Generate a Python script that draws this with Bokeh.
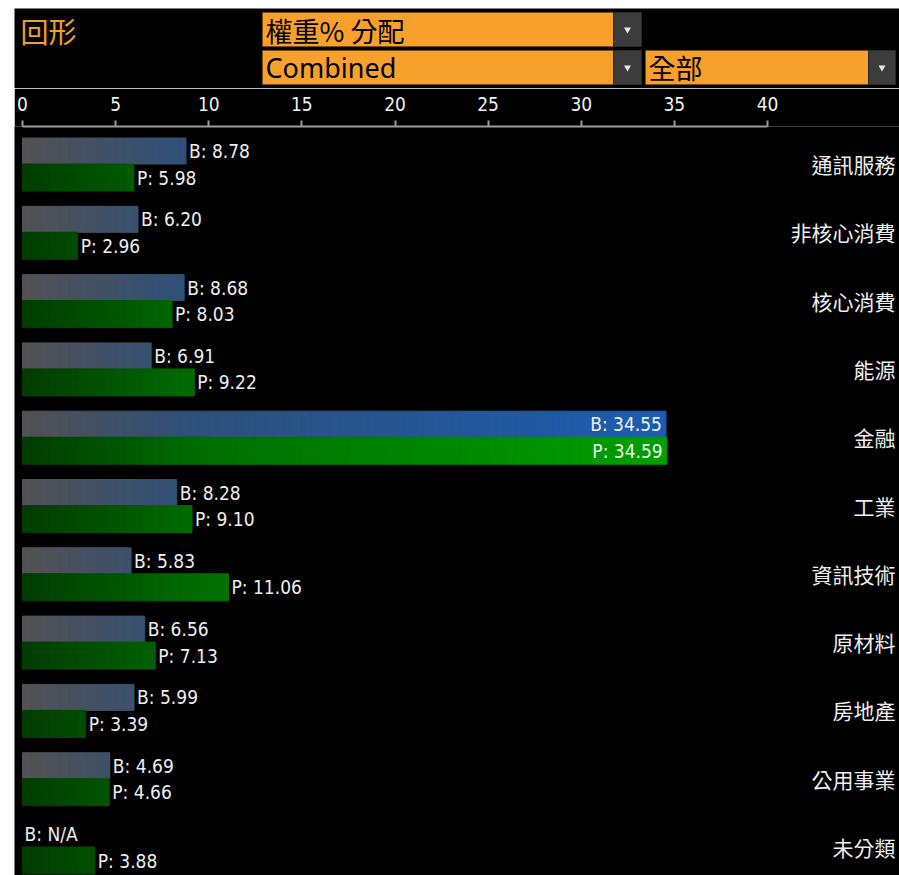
import math
from bokeh.plotting import figure
from bokeh.models import Range1d, ColumnDataSource, FixedTicker, Spacer
from bokeh.layouts import row, column
from bokeh.core.properties import value
from bokeh.embed import file_html
from bokeh.resources import INLINE

# ---------------- data ----------------
categories = ["通訊服務", "非核心消費", "核心消費", "能源", "金融", "工業",
              "資訊技術", "原材料", "房地產", "公用事業", "未分類"]
bench = [8.78, 6.20, 8.68, 6.91, 34.55, 8.28, 5.83, 6.56, 5.99, 4.69, None]
port = [5.98, 2.96, 8.03, 9.22, 34.59, 9.10, 11.06, 7.13, 3.39, 4.66, 3.88]
x_ticks = [0, 5, 10, 15, 20, 25, 30, 35, 40]
title_text = "回形"
dropdown_1 = "權重% 分配"
dropdown_2 = "Combined"
dropdown_3 = "全部"

# ---------------- layout constants ----------------
LEFT_GAP = 14
TOP_GAP = 8
FIG_W = 885
HEAD_H = 80
MAIN_H = 787
TOP_BORDER = 38
X0_PX = 8
PX_PER_UNIT = 745 / 40.0
PITCH = 68.3
FRAME_H = MAIN_H - TOP_BORDER
ROW0_PX = 37.5

CJK = "Noto Sans CJK TC"
NUM_FONT = "DejaVu Sans Condensed, Liberation Sans, sans-serif"

b_stops = [(0, (82, 82, 82)), (9, (46, 80, 122)), (35, (28, 92, 178))]
p_stops = [(0, (0, 60, 0)), (10, (0, 112, 0)), (35, (0, 160, 0))]


def interp(stops, x):
    if x <= stops[0][0]:
        return stops[0][1]
    for (x0, c0), (x1, c1) in zip(stops[:-1], stops[1:]):
        if x <= x1:
            t = (x - x0) / (x1 - x0)
            return tuple(round(a + (b - a) * t) for a, b in zip(c0, c1))
    return stops[-1][1]


def hexc(c):
    return "#%02x%02x%02x" % c


# ---------------- header ----------------
head = figure(width=FIG_W, height=HEAD_H, output_backend="svg", toolbar_location=None,
              x_range=Range1d(LEFT_GAP, LEFT_GAP + FIG_W),
              y_range=Range1d(TOP_GAP + HEAD_H, TOP_GAP),
              x_axis_location=None, y_axis_location=None, min_border=0)
head.background_fill_color = "black"
head.border_fill_color = "black"
head.outline_line_color = None
head.xgrid.visible = False
head.ygrid.visible = False

head.text(x=[20], y=[30], text=[title_text], text_color="#eda12c",
          text_font=value(CJK), text_font_size="28px", text_baseline="middle")

boxes = ColumnDataSource(dict(left=[262, 262, 645], right=[613, 613, 868],
                              top=[12, 50, 50], bottom=[46, 84, 84]))
head.quad(left="left", right="right", top="top", bottom="bottom", source=boxes,
          fill_color="#f7a02c", line_color="#7a4c0c", line_width=1)
btns = ColumnDataSource(dict(left=[613, 613, 868], right=[641, 641, 895],
                             top=[12, 50, 50], bottom=[46, 84, 84]))
head.quad(left="left", right="right", top="top", bottom="bottom", source=btns,
          fill_color="#3c3c3c", line_color="#2a2a2a", line_width=1)
head.scatter(x=[627, 627, 881.5], y=[29, 67, 67], marker="inverted_triangle",
             size=7, fill_color="#e8e8e8", line_color=None)
head.text(x=[265], y=[29.5], text=[dropdown_1], text_color="black",
          text_font=value(CJK), text_font_size="27px", text_baseline="middle")
head.text(x=[265], y=[67], text=[dropdown_2], text_color="black",
          text_font=value("Noto Sans"), text_font_size="27px", text_baseline="middle")
head.text(x=[648], y=[67], text=[dropdown_3], text_color="black",
          text_font=value(CJK), text_font_size="27px", text_baseline="middle")

# ---------------- main chart ----------------
x_start = -X0_PX / PX_PER_UNIT
x_end = (FIG_W - X0_PX) / PX_PER_UNIT
y_top = -ROW0_PX / PITCH
y_bot = (FRAME_H - ROW0_PX) / PITCH

p = figure(width=FIG_W, height=MAIN_H, output_backend="svg", toolbar_location=None,
           x_range=Range1d(x_start, x_end), y_range=Range1d(y_bot, y_top),
           x_axis_location="above", y_axis_location=None,
           min_border=0, min_border_top=TOP_BORDER)
p.background_fill_color = "black"
p.border_fill_color = "black"
p.outline_line_color = None
p.xgrid.visible = False
p.ygrid.visible = False

ax = p.xaxis[0]
ax.ticker = FixedTicker(ticks=x_ticks)
ax.bounds = (x_ticks[0], x_ticks[-1])
ax.axis_line_color = "#9c9c9c"
ax.axis_line_width = 2
ax.major_tick_line_color = "#9c9c9c"
ax.major_tick_line_width = 2
ax.major_tick_out = 6
ax.major_tick_in = 0
ax.minor_tick_out = 0
ax.minor_tick_in = 0
ax.major_label_text_color = "#f0f0f0"
ax.major_label_text_font = NUM_FONT
ax.major_label_text_font_size = "19px"
ax.major_label_standoff = 10

B_H = 26 / PITCH
P_H = 27 / PITCH
STEP = 0.5

strips = dict(left=[], right=[], top=[], bottom=[], color=[])
for i, (b, pv) in enumerate(zip(bench, port)):
    for v, stops, top, bot in ((b, b_stops, i - B_H, i), (pv, p_stops, i, i + P_H)):
        if v is None:
            continue
        n = math.ceil(v / STEP)
        for k in range(n):
            l = k * STEP
            r = min((k + 1) * STEP, v)
            strips["left"].append(l)
            strips["right"].append(r)
            strips["top"].append(top)
            strips["bottom"].append(bot)
            strips["color"].append(hexc(interp(stops, (l + r) / 2)))
p.quad(left="left", right="right", top="top", bottom="bottom", source=ColumnDataSource(strips),
       fill_color="color", line_color="color", line_width=1)

lab = dict(x=[], y=[], text=[], align=[], xo=[])
for i, (b, pv) in enumerate(zip(bench, port)):
    for tag, v, yc in (("B", b, i - B_H / 2), ("P", pv, i + P_H / 2)):
        if v is None:
            lab["x"].append(0)
            lab["text"].append(f"{tag}: N/A")
            lab["align"].append("left")
            lab["xo"].append(2)
        else:
            lab["x"].append(v)
            lab["text"].append(f"{tag}: {v:.2f}")
            inside = v > 30
            lab["align"].append("right" if inside else "left")
            lab["xo"].append(-4 if inside else 3)
        lab["y"].append(yc)
p.text(x="x", y="y", text="text", text_align="align", x_offset="xo",
       source=ColumnDataSource(lab), text_color="#eeeeee",
       text_font=value(NUM_FONT), text_font_size="19px", text_baseline="middle")

cat_src = ColumnDataSource(dict(x=[x_end] * len(categories), y=list(range(len(categories))),
                                text=categories))
p.text(x="x", y="y", text="text", source=cat_src, text_align="right", x_offset=-4,
       text_baseline="middle", text_color="#eeeeee", text_font=value(CJK),
       text_font_size="21px")

layout = row(Spacer(width=LEFT_GAP, height=TOP_GAP + HEAD_H + MAIN_H),
             column(Spacer(width=FIG_W, height=TOP_GAP), head, p))
open("out.html", "w").write(file_html(layout, INLINE))
